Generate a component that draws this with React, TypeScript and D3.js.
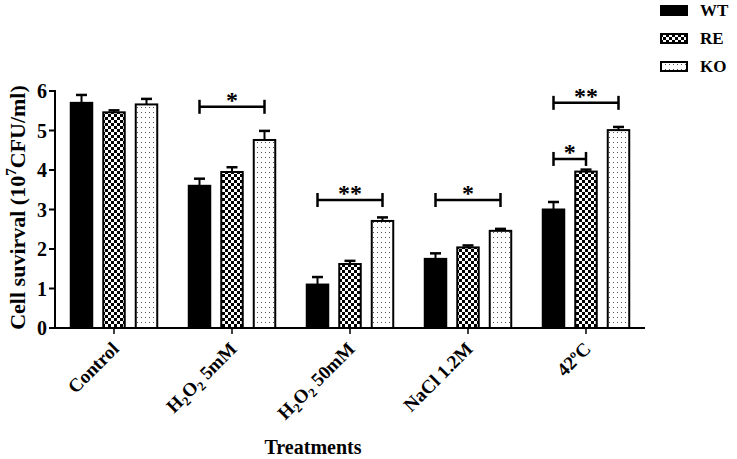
import React from "react";
import * as d3 from "d3";

const categories = ["Control", "H2O2 5mM", "H2O2 50mM", "NaCl 1.2M", "42ºC"];
const seriesNames = ["WT", "RE", "KO"];
const wtValues = [5.7, 3.6, 1.1, 1.75, 3.0];
const wtErrors = [0.2, 0.18, 0.19, 0.14, 0.19];
const reValues = [5.46, 3.95, 1.62, 2.04, 3.96];
const reErrors = [0.05, 0.12, 0.08, 0.05, 0.05];
const koValues = [5.66, 4.76, 2.71, 2.46, 5.01];
const koErrors = [0.14, 0.23, 0.09, 0.05, 0.08];
const yTicks = [0, 1, 2, 3, 4, 5, 6];
// significance brackets: category index, from series, to series, y value, label
const sigCategory = [1, 2, 3, 4, 4];
const sigFrom = [0, 0, 0, 0, 0];
const sigTo = [2, 2, 2, 1, 2];
const sigLevel = [5.6, 3.24, 3.24, 4.28, 5.7];
const sigLabel = ["*", "**", "*", "*", "**"];

const W = 737;
const H = 459;
const FONT = "'Liberation Serif', 'Times New Roman', serif";

export default function App() {
  const x0 = d3.scaleBand<string>().domain(categories).range([55, 645]).paddingInner(0).paddingOuter(0);
  const x1 = d3
    .scaleBand<string>()
    .domain(seriesNames)
    .range([0, x0.bandwidth()])
    .paddingInner(0.277)
    .paddingOuter(0.454);
  const y = d3.scaleLinear().domain([0, 6]).range([328, 91]);
  const fills = ["#000", "url(#checker)", "url(#dots)"];
  const values = [wtValues, reValues, koValues];
  const errors = [wtErrors, reErrors, koErrors];
  const bw = x1.bandwidth();

  const barCenter = (ci: number, si: number) =>
    (x0(categories[ci]) as number) + (x1(seriesNames[si]) as number) + bw / 2;

  const renderLabel = (c: string) => {
    if (c.startsWith("H2O2")) {
      const rest = c.slice(4);
      return (
        <>
          H<tspan fontSize={13} dy={4}>2</tspan>
          <tspan dy={-4}>O</tspan>
          <tspan fontSize={13} dy={4}>2</tspan>
          <tspan dy={-4}>{rest}</tspan>
        </>
      );
    }
    return c;
  };

  return (
    <svg
      width={W}
      height={H}
      style={{ position: "absolute", left: 0, top: 0, background: "#fff" }}
      fontFamily={FONT}
    >
      <defs>
        <pattern id="checker" width={6} height={6} patternUnits="userSpaceOnUse">
          <rect width={6} height={6} fill="#fff" />
          <rect width={3} height={3} fill="#000" />
          <rect x={3} y={3} width={3} height={3} fill="#000" />
        </pattern>
        <pattern id="dots" width={4} height={5} patternUnits="userSpaceOnUse">
          <rect width={4} height={5} fill="#fff" />
          <rect x={1} y={2} width={1} height={1} fill="#555" />
        </pattern>
      </defs>

      {/* bars */}
      {categories.map((c, ci) =>
        seriesNames.map((s, si) => {
          const v = values[si][ci];
          const e = errors[si][ci];
          const cx = barCenter(ci, si);
          const bx = (x0(c) as number) + (x1(s) as number);
          return (
            <g key={c + s}>
              <line x1={cx} x2={cx} y1={y(v)} y2={y(v + e)} stroke="#000" strokeWidth={2} />
              <line x1={cx - 5.5} x2={cx + 5.5} y1={y(v + e)} y2={y(v + e)} stroke="#000" strokeWidth={2.5} />
              <rect
                x={bx + 1}
                y={y(v)}
                width={bw - 2}
                height={y(0) - y(v)}
                fill={fills[si]}
                stroke="#000"
                strokeWidth={2}
              />
            </g>
          );
        })
      )}

      {/* axes */}
      <line x1={55} x2={55} y1={y(6) - 1} y2={y(0) + 1} stroke="#000" strokeWidth={2} />
      <line x1={54} x2={645} y1={y(0)} y2={y(0)} stroke="#000" strokeWidth={2} />
      {yTicks.map((t) => (
        <g key={t}>
          <line x1={49} x2={55} y1={y(t)} y2={y(t)} stroke="#000" strokeWidth={2} />
          <text x={47} y={y(t)} dy="0.35em" textAnchor="end" fontSize={20} fontWeight="bold">
            {t}
          </text>
        </g>
      ))}
      {categories.map((c) => {
        const cx = (x0(c) as number) + x0.bandwidth() / 2;
        return (
          <g key={c}>
            <line x1={cx} x2={cx} y1={y(0)} y2={y(0) + 6} stroke="#000" strokeWidth={1.5} />
            <text
              transform={`translate(${cx + 6},${y(0) + 22}) rotate(-45)`}
              textAnchor="end"
              fontSize={19}
              fontWeight="bold"
            >
              {renderLabel(c)}
            </text>
          </g>
        );
      })}

      {/* axis titles */}
      <text x={313} y={454} textAnchor="middle" fontSize={20} fontWeight="bold">
        Treatments
      </text>
      <text
        transform={`translate(25,${(y(0) + y(6)) / 2 - 2}) rotate(-90)`}
        textAnchor="middle"
        fontSize={22}
        fontWeight="bold"
      >
        Cell suvirval (10<tspan fontSize={15} dy={-9}>7</tspan>
        <tspan dy={9}>CFU/ml)</tspan>
      </text>

      {/* significance brackets */}
      {sigCategory.map((ci, i) => {
        const xa = barCenter(ci, sigFrom[i]);
        const xb = barCenter(ci, sigTo[i]);
        const yy = y(sigLevel[i]);
        return (
          <g key={i}>
            <line x1={xa} x2={xb} y1={yy} y2={yy} stroke="#000" strokeWidth={2.5} />
            <line x1={xa} x2={xa} y1={yy - 7} y2={yy + 7} stroke="#000" strokeWidth={2.5} />
            <line x1={xb} x2={xb} y1={yy - 7} y2={yy + 7} stroke="#000" strokeWidth={2.5} />
            <text x={(xa + xb) / 2} y={yy + 1} textAnchor="middle" fontSize={24} fontWeight="bold">
              {sigLabel[i]}
            </text>
          </g>
        );
      })}

      {/* legend */}
      {seriesNames.map((s, si) => (
        <g key={s} transform={`translate(660,${6 + si * 28})`}>
          <rect x={1} y={0} width={26} height={9} fill={fills[si]} stroke="#000" strokeWidth={2} />
          <text x={40} y={10} fontSize={17} fontWeight="bold">
            {s}
          </text>
        </g>
      ))}
    </svg>
  );
}
